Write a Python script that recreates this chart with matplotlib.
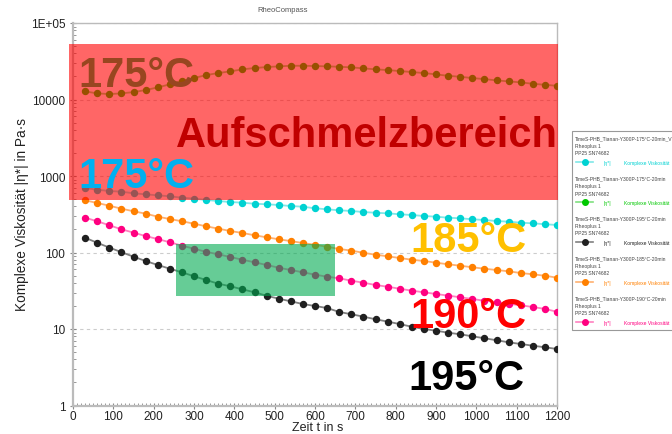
import matplotlib
matplotlib.use("Agg")
import matplotlib.pyplot as plt
from matplotlib.patches import Rectangle
from matplotlib.lines import Line2D
from matplotlib.ticker import FixedLocator, FixedFormatter, LogLocator, NullFormatter, MultipleLocator

plt.rcParams['font.family'] = ['Liberation Sans', 'DejaVu Sans']

# Measurement time in s
time_s = [30, 60, 90, 120, 150, 180, 210, 240, 270, 300,
          330, 360, 390, 420, 450, 480, 510, 540, 570, 600,
          630, 660, 690, 720, 750, 780, 810, 840, 870, 900,
          930, 960, 990, 1020, 1050, 1080, 1110, 1140, 1170, 1200]

# Complex viscosity |eta*| in Pa*s
eta_175_a = [697, 662, 637, 624, 594, 576, 559, 543, 520, 505,
             486, 471, 457, 448, 434, 427, 418, 405, 397, 378,
             367, 356, 349, 338, 331, 325, 316, 309, 300, 294,
             285, 280, 272, 266, 258, 253, 245, 241, 234, 229]
eta_175_b = [12770, 12020, 11780, 12020, 12500, 13280, 14400, 15770, 17580, 19060,
             20850, 22160, 23330, 24780, 25760, 26550, 27110, 27600, 27600, 27400,
             27100, 26800, 26300, 25530, 24780, 24260, 23550, 22850, 22160, 21300,
             20420, 19820, 19060, 18490, 17780, 17250, 16740, 16060, 15570, 15100]
eta_185 = [481, 444, 409, 374, 346, 322, 294, 274, 256, 238,
           220, 205, 191, 180, 168, 158, 149, 141, 133, 126,
           119, 111, 106, 99, 93.6, 89.2, 84.7, 80.5, 77.4, 73.6,
           70.1, 67.2, 64.1, 61.4, 59.0, 56.8, 53.9, 51.9, 49.7, 46.9]
eta_190 = [285, 256, 227, 201, 182, 164, 150, 136, 123, 112,
           102, 94.7, 87.3, 80.5, 74.5, 68.7, 63.3, 59.0, 55.1, 51.3,
           48.3, 46.0, 42.8, 40.3, 37.6, 35.7, 33.6, 31.7, 30.2, 28.7,
           27.3, 26.0, 24.7, 23.4, 22.5, 21.4, 20.4, 19.4, 18.3, 16.8]
eta_195 = [156, 134, 116, 101, 88.2, 77.4, 68.7, 61.4, 55.1, 48.9,
           43.7, 39.1, 36.2, 33.0, 30.2, 27.2, 24.9, 23.0, 21.2, 20.0,
           18.8, 16.7, 15.6, 14.5, 13.4, 12.5, 11.6, 10.7, 10.0, 9.5,
           8.95, 8.53, 8.03, 7.57, 7.13, 6.70, 6.37, 6.05, 5.77, 5.48]

legend_titles = ["TimeS-PHB_Tianan-Y300P-175°C-20min_V",
                 "TimeS-PHB_Tianan-Y300P-175°C-20min",
                 "TimeS-PHB_Tianan-Y300P-195°C-20min",
                 "TimeS-PHB_Tianan-Y300P-185°C-20min",
                 "TimeS-PHB_Tianan-Y300P-190°C-20min"]
series = [eta_175_a, eta_175_b, eta_195, eta_185, eta_190]
colors = ["#00D2D2", "#00C800", "#202020", "#FF8000", "#FF0080"]
line_colors = ["#7FE8E8", "#7FE07F", "#808080", "#FFB070", "#FF80C0"]

y_ticks = [1, 10, 100, 1000, 10000, 100000]
y_labels = ["1", "10", "100", "1000", "10000", "1E+05"]

W, H = 672, 435
fig = plt.figure(figsize=(W / 100, H / 100), dpi=100)
ax = fig.add_axes([73 / W, 1 - 406.5 / H, (557 - 73) / W, (406.5 - 24) / H])

def fx(px):
    return px / W

def fy(py):
    return 1 - py / H

for vals, c, lc in zip(series, colors, line_colors):
    ax.plot(time_s, vals, color=lc, lw=1.3, zorder=3)
    ax.plot(time_s, vals, ls='none', marker='o', ms=4.3, color=c, mec=c, zorder=4)

ax.set_yscale('log')
ax.set_xlim(0, 1200)
ax.set_ylim(1, 1e5)
ax.yaxis.set_major_locator(FixedLocator(y_ticks))
ax.yaxis.set_major_formatter(FixedFormatter(y_labels))
ax.yaxis.set_minor_locator(LogLocator(base=10, subs=range(2, 10)))
ax.yaxis.set_minor_formatter(NullFormatter())
ax.xaxis.set_major_locator(MultipleLocator(100))
ax.xaxis.set_minor_locator(MultipleLocator(10))

ax.grid(axis='y', which='major', ls=(0, (3, 3)), color='#CCCCCC', lw=0.8, zorder=1)
ax.set_axisbelow(True)

for side in ['left', 'bottom']:
    ax.spines[side].set_color('#BBBBBB')
    ax.spines[side].set_linewidth(1.6)
for side in ['top', 'right']:
    ax.spines[side].set_color('#BBBBBB')
    ax.spines[side].set_linewidth(1.0)

ax.tick_params(axis='both', which='major', direction='inout', length=5, width=0.8,
               color='#888888', labelsize=8.5, labelcolor='#222222')
ax.tick_params(axis='both', which='minor', direction='in', length=2, width=0.6,
               color='#888888')
ax.tick_params(axis='x', pad=1)
ax.tick_params(axis='y', pad=3)

fig.text(fx(318), fy(428), "Zeit t in s", fontsize=9, color='#222222',
         ha='center', va='center')
fig.text(fx(22), fy(215), "Komplexe Viskosität |η*| in Pa·s", fontsize=9.8,
         color='#222222', rotation=90, ha='center', va='center')
fig.text(fx(283), fy(11), "RheoCompass", fontsize=5.5, color='#555555', ha='center', va='center')

# Annotation shapes and texts
tf = fig.transFigure
big = 30
ax.text(fx(78), fy(87.3), "175°C", transform=tf, fontsize=big, fontweight='bold',
        color='#00B050', zorder=5, clip_on=False)
ax.add_patch(Rectangle((fx(69.3), fy(200.7)), fx(557.7) - fx(69.3), fy(45) - fy(200.7),
                       transform=tf, facecolor='#FF0000', alpha=0.6, lw=0,
                       zorder=6, clip_on=False))
ax.add_patch(Rectangle((fx(176), fy(297.3)), fx(335) - fx(176), fy(245.3) - fy(297.3),
                       transform=tf, facecolor='#00AA50', alpha=0.6, lw=0,
                       zorder=6, clip_on=False))
ax.text(fx(78), fy(188), "175°C", transform=tf, fontsize=big, fontweight='bold',
        color='#00B0F0', zorder=7, clip_on=False)
ax.text(fx(176), fy(146.7), "Aufschmelzbereich", transform=tf, fontsize=big,
        fontweight='bold', color='#C00000', zorder=7, clip_on=False)
ax.text(fx(410), fy(251.7), "185°C", transform=tf, fontsize=big, fontweight='bold',
        color='#FFC000', zorder=7, clip_on=False)
ax.text(fx(410), fy(328.5), "190°C", transform=tf, fontsize=big, fontweight='bold',
        color='#FF0000', zorder=7, clip_on=False)
ax.text(fx(408), fy(390.5), "195°C", transform=tf, fontsize=big, fontweight='bold',
        color='#000000', zorder=7, clip_on=False)

# Legend panel on the right
fig.patches.append(Rectangle((fx(571.7), fy(330.7)), fx(700) - fx(571.7), fy(132) - fy(330.7),
                             transform=tf, facecolor='white', edgecolor='#999999', lw=0.8))
small = 3.6
for i, (title, c, lc) in enumerate(zip(legend_titles, colors, line_colors)):
    y0 = 139 + 40 * i
    fig.text(fx(575), fy(y0), title, fontsize=small, color='#444444', va='center')
    fig.text(fx(575), fy(y0 + 7.5), "Rheoplus 1", fontsize=small, color='#444444', va='center')
    fig.text(fx(575), fy(y0 + 15), "PP25 SN74682", fontsize=small, color='#444444', va='center')
    ym = y0 + 24.3
    fig.add_artist(Line2D([fx(576), fx(593)], [fy(ym), fy(ym)], transform=tf,
                          color=lc, lw=1.2))
    fig.add_artist(Line2D([fx(584.5)], [fy(ym)], transform=tf, marker='o', ms=4,
                          color=c, mec=c, ls='none'))
    fig.text(fx(603), fy(ym), "|η*|", fontsize=small, color=c, va='center')
    fig.text(fx(624), fy(ym), "Komplexe Viskosität", fontsize=small, color=c, va='center')

fig.savefig("out.png", dpi=100)
